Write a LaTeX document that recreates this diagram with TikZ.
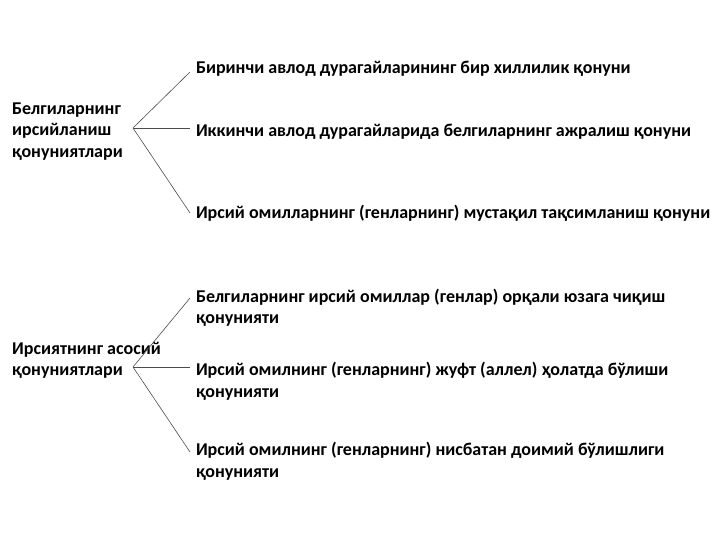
\documentclass[tikz,border=0pt]{standalone}
\usepackage{fontspec}
\setmainfont{Carlito}
\usetikzlibrary{positioning}
\tikzset{
  root_/.style = {anchor=base west, align=left, inner sep=0pt},
  law_/.style  = {anchor=base west, align=left, inner sep=0pt, outer xsep=6pt},
  branch_/.style = {draw, line width=0.6pt, color=black!70}
}

\begin{document}
\begin{tikzpicture}
		[
		x = 1pt, y = -1pt,
		every node/.style = {font=\fontsize{18}{21.6}\selectfont\bfseries}
		]
		\useasboundingbox (0,0) rectangle (720,540);
		% first group (base = last line)
		\node [root_] (r1) at (12,157.3) {Белгиларнинг\\ирсийланиш\\қонуниятлари};
		\coordinate (p1) at (133,128);
		\node [law_] (a1) at (190,73.3) {Биринчи авлод дурагайларининг бир хиллилик қонуни};
		\node [law_] (a2) at (190,136.7) {Иккинчи авлод дурагайларида белгиларнинг ажралиш қонуни};
		\node [law_] (a3) at (190,218.3) {Ирсий омилларнинг (генларнинг) мустақил тақсимланиш қонуни};
		\foreach \n/\dy in {a1/1.3, a2/8.7, a3/5.3}
			\draw [branch_] (p1) -- ([yshift=\dy pt]\n.base west);
		% second group
		\node [root_] (r2) at (12,375.9) {Ирсиятнинг асосий\\қонуниятлари};
		\coordinate (p2) at (133,367);
		\node [law_] (b1) at (190,323.9) {Белгиларнинг ирсий омиллар (генлар) орқали юзага чиқиш\\қонунияти};
		\node [law_] (b2) at (190,397.3) {Ирсий омилнинг (генларнинг) жуфт (аллел) ҳолатда бўлиши\\қонунияти};
		\node [law_] (b3) at (190,477.3) {Ирсий омилнинг (генларнинг) нисбатан доимий бўлишлиги\\қонунияти};
		\foreach \n/\dy in {b1/25.9, b2/30.3, b3/25.3}
			\draw [branch_] (p2) -- ([yshift=\dy pt]\n.base west);
\end{tikzpicture}
\end{document}
